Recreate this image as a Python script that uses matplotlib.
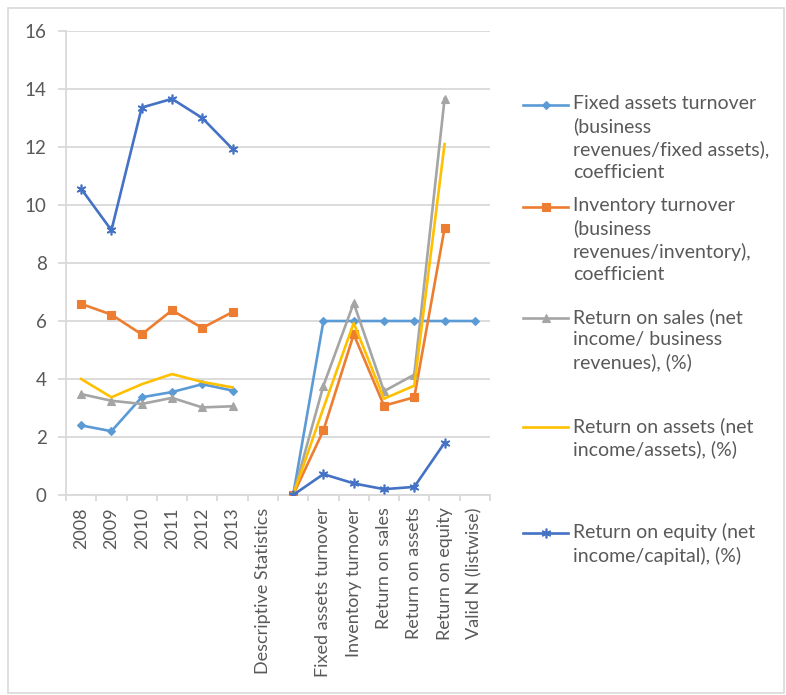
import numpy as np
import matplotlib
matplotlib.use("Agg")
import matplotlib.pyplot as plt
from matplotlib.lines import Line2D
from matplotlib.patches import Rectangle

# Category axis: yearly values, then the descriptive-statistics block
categories = ["2008", "2009", "2010", "2011", "2012", "2013",
              "Descriptive Statistics", "",
              "Fixed assets turnover", "Inventory turnover", "Return on sales",
              "Return on assets", "Return on equity", "Valid N (listwise)"]

nan = np.nan
fixed_assets_turnover = [2.40, 2.20, 3.37, 3.55, 3.82, 3.60, nan, 0.0, 6.0, 6.0, 6.0, 6.0, 6.0, 6.0]
inventory_turnover = [6.59, 6.22, 5.54, 6.37, 5.76, 6.31, nan, 0.0, 2.23, 5.54, 3.08, 3.37, 9.20, nan]
return_on_sales = [3.48, 3.25, 3.14, 3.35, 3.02, 3.06, nan, 0.0, 3.77, 6.62, 3.58, 4.15, 13.66, nan]
return_on_assets = [4.00, 3.37, 3.82, 4.17, 3.90, 3.71, nan, 0.0, 3.00, 5.93, 3.32, 3.77, 12.10, nan]
return_on_equity = [10.56, 9.13, 13.36, 13.66, 13.00, 11.93, nan, 0.0, 0.72, 0.40, 0.20, 0.28, 1.80, nan]

series_labels = [
    "Fixed assets turnover\n(business\nrevenues/fixed assets),\ncoefficient",
    "Inventory turnover\n(business\nrevenues/inventory),\ncoefficient",
    "Return on sales (net\nincome/ business\nrevenues), (%)",
    "Return on assets (net\nincome/assets), (%)",
    "Return on equity (net\nincome/capital), (%)",
]
y_ticks = [0, 2, 4, 6, 8, 10, 12, 14, 16]

colors = ["#5B9BD5", "#ED7D31", "#A5A5A5", "#FFC000", "#4472C4"]
markers = ["D", "s", "^", None, (6, 2, 0)]
msizes = [4.5, 6, 6, 0, 7]
text_color = "#595959"
grid_color = "#D9D9D9"

plt.rcParams["font.family"] = ["Lato", "DejaVu Sans"]

W, H = 786, 695
fig = plt.figure(figsize=(W / 100, H / 100), dpi=100)

def px(x, y):
    return x / W, 1 - y / H

# plot area in pixels
L, R, T, B = 66, 490, 31, 495
ax = fig.add_axes([L / W, 1 - B / H, (R - L) / W, (B - T) / H])

x = np.arange(len(categories))
all_series = [fixed_assets_turnover, inventory_turnover, return_on_sales,
              return_on_assets, return_on_equity]
for i, (vals, c, m, ms) in enumerate(zip(all_series, colors, markers, msizes)):
    ax.plot(x, vals, color=c, lw=1.9, marker=m, markersize=ms,
            markeredgewidth=1.2 if i == 4 else 0.8, markeredgecolor=c,
            markerfacecolor=c, zorder=3 + i, solid_joinstyle="round")

ax.set_xlim(-0.5, len(categories) - 0.5)
ax.set_ylim(0, 16)
ax.set_yticks(y_ticks)
ax.set_yticklabels([str(v) for v in y_ticks])
ax.set_xticks(x)
ax.set_xticklabels(categories, rotation=90)
ax.set_xticks(np.arange(-0.5, len(categories), 1.0), minor=True)

ax.grid(axis="y", color=grid_color, lw=1.3, zorder=0)
ax.set_axisbelow(True)
for s in ["top", "right"]:
    ax.spines[s].set_visible(False)
ax.spines["left"].set_color(grid_color)
ax.spines["left"].set_linewidth(1.3)
ax.spines["bottom"].set_color(grid_color)
ax.spines["bottom"].set_linewidth(1.3)

ax.tick_params(axis="y", length=6, width=1.3, color=grid_color, pad=8,
               labelsize=13.5, labelcolor=text_color)
ax.tick_params(axis="x", which="major", length=0, pad=9,
               labelsize=13, labelcolor=text_color)
ax.tick_params(axis="x", which="minor", length=4, width=1.3, color=grid_color)

# legend drawn in figure coordinates
legend_rows = [105, 207, 318, 427, 533]
for lab, c, m, ms, yrow, i in zip(series_labels, colors, markers, msizes,
                                 legend_rows, range(5)):
    x0, y0 = px(523, yrow)
    x1, _ = px(568, yrow)
    fig.add_artist(Line2D([x0, x1], [y0, y0], color=c, lw=1.9))
    if m is not None:
        fig.add_artist(Line2D([(x0 + x1) / 2], [y0], color=c, marker=m,
                              markersize=ms, markeredgewidth=1.2 if i == 4 else 0.8,
                              markeredgecolor=c, markerfacecolor=c, lw=0))
    tx, ty = px(573, yrow - 10)
    fig.text(tx, ty, lab, ha="left", va="top", fontsize=14,
             color=text_color, linespacing=1.36)

# light frame around the chart
fig.add_artist(Rectangle(px(8, 693), (784 - 8) / W, (693 - 8) / H,
                         fill=False, edgecolor=grid_color, lw=1.2))

fig.savefig("out.png", dpi=100)
